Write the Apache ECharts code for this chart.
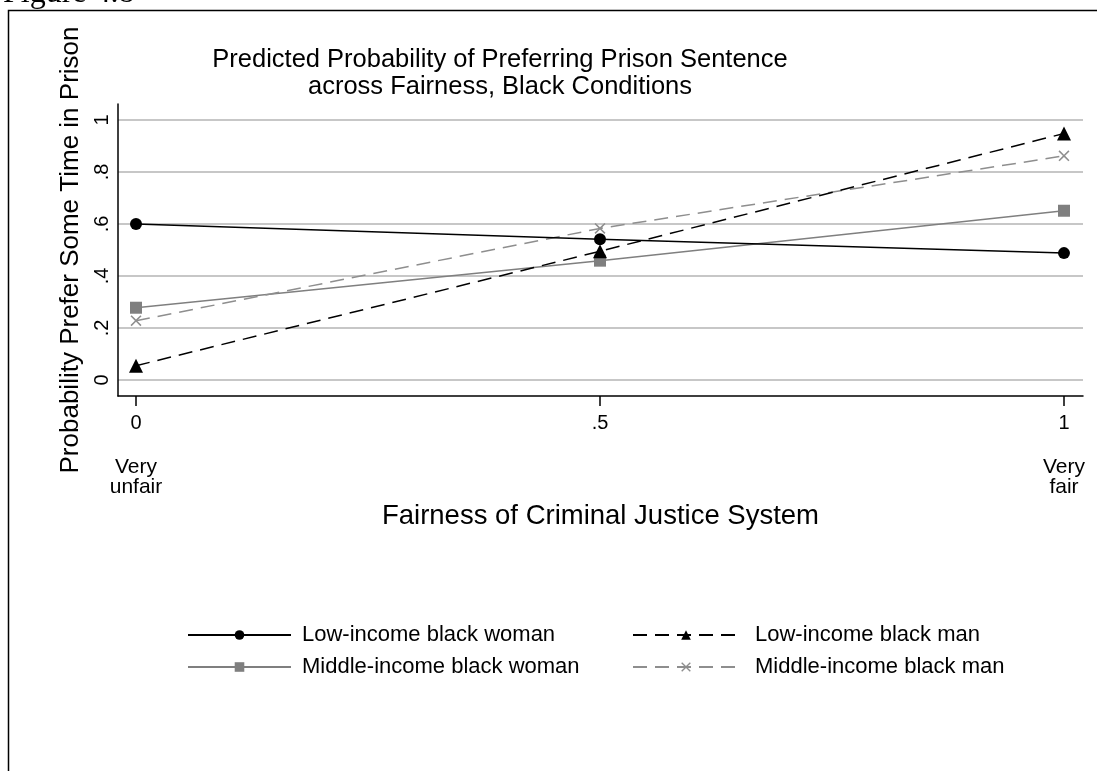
<!DOCTYPE html>
<html>
<head>
<meta charset="utf-8">
<script src="https://cdn.jsdelivr.net/npm/echarts@6/dist/echarts.min.js"></script>
<style>
  html, body { margin: 0; padding: 0; background: #ffffff; }
  #chart { width: 1097px; height: 771px; }
</style>
</head>
<body>
<div id="chart"></div>
<script>
// Fairness scores on the x axis and the predicted probabilities per condition
const fairness = [0, 0.5, 1];
const lowIncomeWoman = [0.600, 0.541, 0.488];
const lowIncomeMan = [0.055, 0.495, 0.948];
const middleIncomeWoman = [0.278, 0.459, 0.651];
const middleIncomeMan = [0.228, 0.583, 0.862];

const seriesNames = [
  'Low-income black woman',
  'Low-income black man',
  'Middle-income black woman',
  'Middle-income black man'
];

const yTickValues = [0, 0.2, 0.4, 0.6, 0.8, 1];
const xTickValues = [0, 0.5, 1];
const xEndValues = [0, 1];
const xEndLabels = ['Very\nunfair', 'Very\nfair'];

const titleLines = [
  'Predicted Probability of Preferring Prison Sentence',
  'across Fairness, Black Conditions'
];
const xAxisTitle = 'Fairness of Criminal Justice System';
const yAxisTitle = 'Probability Prefer Some Time in Prison';
const figureLabel = 'Figure 4.8';

const FONT = '"Liberation Sans", Arial, Helvetica, sans-serif';
const BLACK = '#000000';
const GRAY = '#7f7f7f';
const LIGHT_GRAY = '#8e8e8e';

// Stata-style tick text: ".2" instead of "0.2"
function stataNum(v) {
  const r = Math.round(v * 10) / 10;
  if (r === 0) return '0';
  if (r === 1) return '1';
  return String(r).replace(/^0/, '');
}

function pairs(ys) {
  return fairness.map((x, i) => [x, ys[i]]);
}

const crossPath = 'path://M1,0 L5,4 L9,0 L10,1 L6,5 L10,9 L9,10 L5,6 L1,10 L0,9 L4,5 L0,1 Z';

const chart = echarts.init(document.getElementById('chart'), null, { renderer: 'canvas' });

const option = {
  backgroundColor: '#ffffff',
  animation: false,
  title: {
    text: titleLines.join('\n'),
    left: 500,
    top: 46,
    padding: 0,
    textAlign: 'center',
    textStyle: {
      fontFamily: FONT,
      fontSize: 25.5,
      fontWeight: 'normal',
      color: BLACK,
      lineHeight: 27
    }
  },
  grid: {
    left: 118,
    right: 14,
    top: 104,
    bottom: 375,
    containLabel: false
  },
  xAxis: [
    {
      type: 'value',
      min: -0.0194,
      max: 1.0205,
      minInterval: 0.5,
      maxInterval: 0.5,
      name: xAxisTitle,
      nameLocation: 'middle',
      nameGap: 106,
      nameTextStyle: { fontFamily: FONT, fontSize: 27.5, color: BLACK },
      axisLine: { show: true, onZero: false, lineStyle: { color: BLACK, width: 1.5 } },
      axisTick: { show: true, length: 10, customValues: xTickValues, lineStyle: { color: BLACK, width: 1.5 } },
      axisLabel: {
        customValues: xTickValues,
        margin: 17,
        fontFamily: FONT,
        fontSize: 20,
        lineHeight: 20,
        color: BLACK,
        formatter: (v) => (v === 0.5 ? '.5' : stataNum(v))
      },
      splitLine: { show: false }
    },
    {
      type: 'value',
      position: 'bottom',
      min: -0.0194,
      max: 1.0205,
      minInterval: 0.5,
      maxInterval: 0.5,
      axisLine: { show: false },
      axisTick: { show: false },
      splitLine: { show: false },
      axisLabel: {
        customValues: xEndValues,
        margin: 61,
        fontFamily: FONT,
        fontSize: 21,
        lineHeight: 20,
        color: BLACK,
        align: 'center',
        formatter: (v) => xEndLabels[xEndValues.indexOf(Math.round(v))]
      }
    }
  ],
  yAxis: {
    type: 'value',
    min: -0.0615,
    max: 1.0615,
    minInterval: 0.2,
    maxInterval: 0.2,
    name: yAxisTitle,
    nameLocation: 'middle',
    nameRotate: 90,
    nameGap: 33,
    nameTextStyle: { fontFamily: FONT, fontSize: 26, color: BLACK },
    axisLine: { show: true, onZero: false, lineStyle: { color: BLACK, width: 1.5 } },
    axisTick: { show: false },
    axisLabel: {
      customValues: yTickValues,
      rotate: 90,
      margin: 6,
      fontFamily: FONT,
      fontSize: 20,
      color: BLACK,
      formatter: stataNum
    },
    splitLine: {
      show: true,
      showMinLine: false,
      showMaxLine: false,
      lineStyle: { color: '#b4b4b4', width: 1.5 }
    }
  },
  legend: [
    {
      data: [seriesNames[0], seriesNames[2]],
      orient: 'vertical',
      left: 182,
      top: 619,
      itemWidth: 103,
      itemHeight: 12,
      itemGap: 10,
      selectedMode: false,
      textStyle: { fontFamily: FONT, fontSize: 22, color: BLACK, padding: [0, 0, 0, 6] }
    },
    {
      data: [seriesNames[1], seriesNames[3]],
      orient: 'vertical',
      left: 627,
      top: 619,
      itemWidth: 106,
      itemHeight: 12,
      itemGap: 10,
      selectedMode: false,
      textStyle: { fontFamily: FONT, fontSize: 22, color: BLACK, padding: [0, 0, 0, 11] }
    }
  ],
  series: [
    {
      name: seriesNames[0],
      type: 'line',
      data: pairs(lowIncomeWoman),
      symbol: 'circle',
      symbolSize: 12,
      itemStyle: { color: BLACK },
      lineStyle: { color: BLACK, width: 1.5, type: 'solid' },
      z: 4
    },
    {
      name: seriesNames[1],
      type: 'line',
      data: pairs(lowIncomeMan),
      symbol: 'triangle',
      symbolSize: 14,
      itemStyle: { color: BLACK },
      lineStyle: { color: BLACK, width: 1.5, type: [14, 8] },
      z: 3
    },
    {
      name: seriesNames[2],
      type: 'line',
      data: pairs(middleIncomeWoman),
      symbol: 'rect',
      symbolSize: 12,
      itemStyle: { color: GRAY },
      lineStyle: { color: GRAY, width: 1.5, type: 'solid' },
      z: 2
    },
    {
      name: seriesNames[3],
      type: 'line',
      data: pairs(middleIncomeMan),
      symbol: crossPath,
      symbolSize: 11,
      itemStyle: { color: LIGHT_GRAY },
      lineStyle: { color: LIGHT_GRAY, width: 1.5, type: [14, 8] },
      z: 2
    }
  ],
  graphic: [
    {
      type: 'polyline',
      silent: true,
      shape: { points: [[1100, 10.5], [8.5, 10.5], [8.5, 775]] },
      style: { stroke: BLACK, lineWidth: 1.5, fill: null }
    },
    {
      type: 'text',
      silent: true,
      x: 3,
      y: -6,
      style: {
        text: figureLabel,
        font: '32px "Liberation Serif", "Times New Roman", serif',
        fill: BLACK,
        verticalAlign: 'middle',
        align: 'left'
      }
    }
  ]
};

chart.setOption(option);
</script>
</body>
</html>
